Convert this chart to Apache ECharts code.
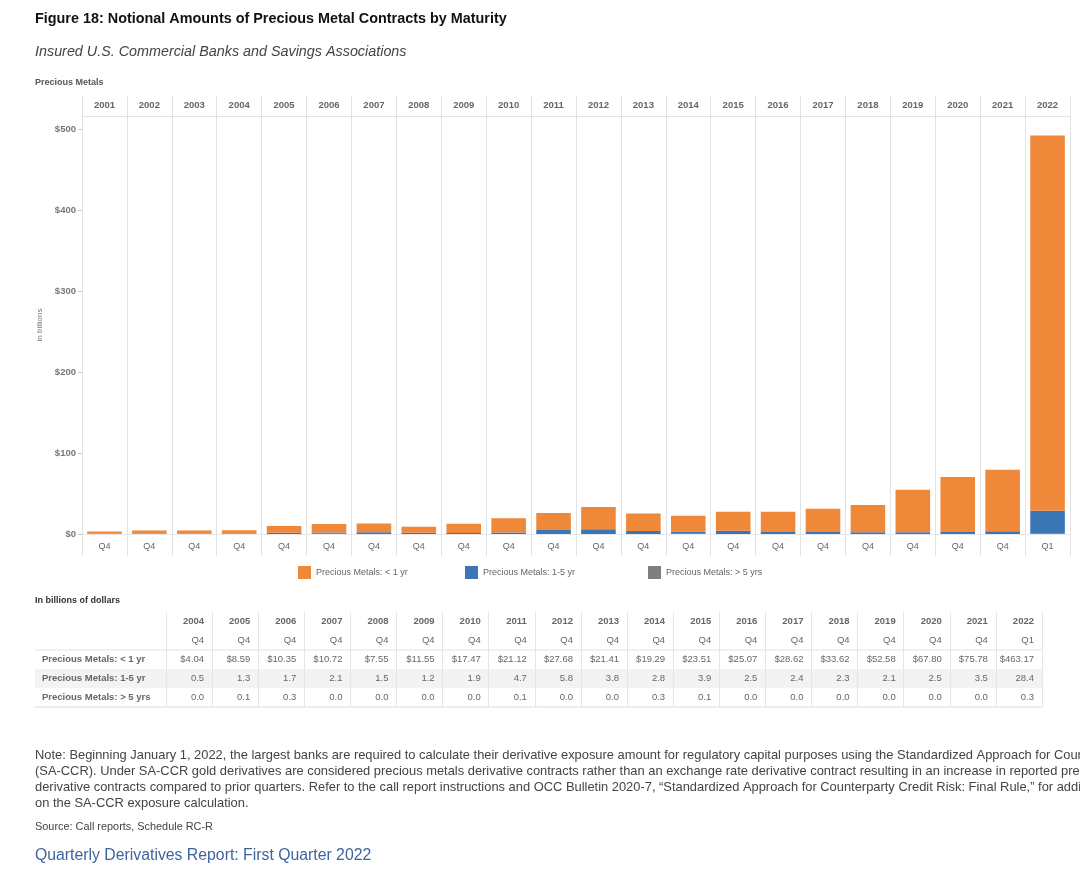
<!DOCTYPE html>
<html><head><meta charset="utf-8">
<script src="https://cdn.jsdelivr.net/npm/echarts@6/dist/echarts.min.js"></script>
<style>html,body{margin:0;padding:0;background:#fff}#c{width:1080px;height:885px}</style>
</head><body><div id="c"></div>
<script>
// ---- data ----
const years = ['2001','2002','2003','2004','2005','2006','2007','2008','2009','2010','2011','2012','2013','2014','2015','2016','2017','2018','2019','2020','2021','2022'];
const quarters = ['Q4','Q4','Q4','Q4','Q4','Q4','Q4','Q4','Q4','Q4','Q4','Q4','Q4','Q4','Q4','Q4','Q4','Q4','Q4','Q4','Q4','Q1'];
const lessThan1yr = [2.9, 3.8, 3.9, 4.04, 8.59, 10.35, 10.72, 7.55, 11.55, 17.47, 21.12, 27.68, 21.41, 19.29, 23.51, 25.07, 28.62, 33.62, 52.58, 67.80, 75.78, 463.17];
const oneTo5yr   = [0.3, 0.5, 0.5, 0.5, 1.3, 1.7, 2.1, 1.5, 1.2, 1.9, 4.7, 5.8, 3.8, 2.8, 3.9, 2.5, 2.4, 2.3, 2.1, 2.5, 3.5, 28.4];
const over5yr    = [0.0, 0.0, 0.0, 0.0, 0.1, 0.3, 0.0, 0.0, 0.0, 0.0, 0.1, 0.0, 0.0, 0.3, 0.1, 0.0, 0.0, 0.0, 0.0, 0.0, 0.0, 0.3];
const yTicks = [0, 100, 200, 300, 400, 500];
const seriesNames = ['Precious Metals: < 1 yr', 'Precious Metals: 1-5 yr', 'Precious Metals: > 5 yrs'];
const tableStart = 3; // table shows 2004 onward
const tableYears = years.slice(tableStart);
const tableQuarters = quarters.slice(tableStart);
const tableLt1 = lessThan1yr.slice(tableStart);
const table1to5 = oneTo5yr.slice(tableStart);
const tableGt5 = over5yr.slice(tableStart);

const FONT = 'Liberation Sans, Arial, sans-serif';
const colors = {lt1: '#F0883A', y15: '#3A75B6', gt5: '#7F7F7F'};

// table cells
const tableRowKeys = ['year', 'quarter', 'lt1', 'y15', 'gt5'];
const tableCells = [];
tableYears.forEach((y, i) => {
  tableCells.push({value: [i, 0], text: y, bold: true});
  tableCells.push({value: [i, 1], text: tableQuarters[i], bold: false});
  tableCells.push({value: [i, 2], text: '$' + tableLt1[i].toFixed(2), bold: false});
  tableCells.push({value: [i, 3], text: table1to5[i].toFixed(1), bold: false});
  tableCells.push({value: [i, 4], text: tableGt5[i].toFixed(1), bold: false});
});
const rowLabelMap = {lt1: seriesNames[0], y15: seriesNames[1], gt5: seriesNames[2]};

const chart = echarts.init(document.getElementById('c'), null, {renderer: 'canvas'});

const noteFont = '12.9px ' + FONT;
const option = {
  backgroundColor: '#fff',
  animation: false,
  textStyle: {fontFamily: FONT},
  graphic: [
    {type: 'text', left: 35, top: 12, style: {text: 'Figure 18: Notional Amounts of Precious Metal Contracts by Maturity', font: 'bold 14.4px ' + FONT, fill: '#111'}},
    {type: 'text', left: 35, top: 45, style: {text: 'Insured U.S. Commercial Banks and Savings Associations', font: 'italic 14.35px ' + FONT, fill: '#444'}},
    {type: 'text', left: 35, top: 78, style: {text: 'Precious Metals', font: 'bold 9px ' + FONT, fill: '#555'}},
    {type: 'text', left: 35, top: 596, style: {text: 'In billions of dollars', font: 'bold 9px ' + FONT, fill: '#333'}},
    {type: 'text', left: 35, top: 749, style: {text: 'Note: Beginning January 1, 2022, the largest banks are required to calculate their derivative exposure amount for regulatory capital purposes using the Standardized Approach for Counterparty Credit Risk', font: noteFont, fill: '#444'}},
    {type: 'text', left: 35, top: 765, style: {text: '(SA-CCR). Under SA-CCR gold derivatives are considered precious metals derivative contracts rather than an exchange rate derivative contract resulting in an increase in reported precious metals', font: noteFont, fill: '#444'}},
    {type: 'text', left: 35, top: 781, style: {text: 'derivative contracts compared to prior quarters. Refer to the call report instructions and OCC Bulletin 2020-7, \u201cStandardized Approach for Counterparty Credit Risk: Final Rule,\u201d for additional information', font: noteFont, fill: '#444'}},
    {type: 'text', left: 35, top: 797, style: {text: 'on the SA-CCR exposure calculation.', font: noteFont, fill: '#444'}},
    {type: 'text', left: 35, top: 821, style: {text: 'Source: Call reports, Schedule RC-R', font: '10.9px ' + FONT, fill: '#444'}},
    {type: 'text', left: 35, top: 848, style: {text: 'Quarterly Derivatives Report: First Quarter 2022', font: '15.8px ' + FONT, fill: '#3E64A0'}}
  ],
  legend: [
    {data: [seriesNames[0]], left: 293, top: 561, itemWidth: 13, itemHeight: 13, icon: 'rect', textStyle: {fontSize: 9, color: '#666', fontFamily: FONT}},
    {data: [seriesNames[1]], left: 460, top: 561, itemWidth: 13, itemHeight: 13, icon: 'rect', textStyle: {fontSize: 9, color: '#666', fontFamily: FONT}},
    {data: [seriesNames[2]], left: 643, top: 561, itemWidth: 13, itemHeight: 13, icon: 'rect', textStyle: {fontSize: 9, color: '#666', fontFamily: FONT}}
  ],
  grid: [
    {left: 82, right: 10, top: 116, bottom: 351, containLabel: false},
    {left: 166, right: 38, top: 612, height: 95, containLabel: false}
  ],
  xAxis: [
    {type: 'category', gridIndex: 0, data: quarters, position: 'bottom',
     axisLine: {show: true, lineStyle: {color: '#e4e8ee', width: 1}},
     axisTick: {show: true, length: 22, interval: 0, lineStyle: {color: '#e2e2e2'}},
     axisLabel: {interval: 0, margin: 8, fontSize: 9, color: '#666', fontFamily: FONT},
     splitLine: {show: false}},
    {type: 'category', gridIndex: 0, data: years, position: 'top',
     axisLine: {show: true, lineStyle: {color: '#e2e2e2', width: 1}},
     axisTick: {show: true, length: 20, interval: 0, lineStyle: {color: '#e2e2e2'}},
     axisLabel: {interval: 0, margin: 6, fontSize: 9.5, fontWeight: 'bold', color: '#666', fontFamily: FONT},
     splitLine: {show: true, interval: 0, lineStyle: {color: '#e2e2e2'}}},
    {type: 'category', gridIndex: 1, data: tableYears, position: 'top',
     axisLine: {show: false}, axisTick: {show: false}, axisLabel: {show: false},
     splitLine: {show: true, interval: 0, lineStyle: {color: '#e6e6e6'}}}
  ],
  yAxis: [
    {type: 'value', gridIndex: 0, min: 0, max: 516, interval: 100,
     name: 'in billions', nameLocation: 'middle', nameGap: 36, nameRotate: 90,
     nameTextStyle: {fontSize: 8, color: '#777', fontFamily: FONT},
     axisLine: {show: false},
     axisTick: {show: true, length: 4, customValues: yTicks, lineStyle: {color: '#ccc'}},
     axisLabel: {margin: 6, fontSize: 9.5, fontWeight: 'bold', color: '#777', fontFamily: FONT, customValues: yTicks, formatter: v => '$' + v},
     splitLine: {show: false}},
    {type: 'category', gridIndex: 1, data: tableRowKeys, inverse: true, z: 5,
     axisLine: {show: false}, axisTick: {show: false},
     axisLabel: {interval: 0, align: 'left', margin: 124, fontSize: 9.5, fontWeight: 'bold', color: '#666', fontFamily: FONT,
                 formatter: v => rowLabelMap[v] || ''},
     splitLine: {show: false}}
  ],
  series: [
    {name: seriesNames[2], type: 'bar', stack: 'pm', xAxisIndex: 0, yAxisIndex: 0, data: over5yr, barCategoryGap: '23%', itemStyle: {color: colors.gt5}},
    {name: seriesNames[1], type: 'bar', stack: 'pm', xAxisIndex: 0, yAxisIndex: 0, data: oneTo5yr, barCategoryGap: '23%', itemStyle: {color: colors.y15}},
    {name: seriesNames[0], type: 'bar', stack: 'pm', xAxisIndex: 0, yAxisIndex: 0, data: lessThan1yr, barCategoryGap: '23%', itemStyle: {color: colors.lt1}},
    {type: 'custom', name: 'tableRules', xAxisIndex: 2, yAxisIndex: 1, silent: true, z: -1, clip: false,
     data: tableRowKeys.map((k, r) => [0, r]),
     renderItem: function (params, api) {
       const r = api.value(1);
       const p = api.coord([0, r]);
       const s = api.size([1, 1]);
       const x0 = p[0] - s[0] / 2;
       const x1 = x0 + s[0] * tableYears.length;
       const xl = x0 - 131;
       const top = p[1] - s[1] / 2, bot = p[1] + s[1] / 2;
       const children = [];
       if (r === 3) children.push({type: 'rect', shape: {x: xl, y: top, width: x1 - xl, height: s[1]}, style: {fill: '#f3f3f3'}});
       if (r === 1) children.push({type: 'line', shape: {x1: xl, y1: bot, x2: x1, y2: bot}, style: {stroke: '#e2e2e2', lineWidth: 1}});
       if (r === 4) children.push({type: 'line', shape: {x1: xl, y1: bot, x2: x1, y2: bot}, style: {stroke: '#dcdcdc', lineWidth: 1}});
       return {type: 'group', children: children};
     }},
    {type: 'custom', name: 'tableCells', xAxisIndex: 2, yAxisIndex: 1, silent: true, z: 3, clip: false,
     data: tableCells.map(c => c.value),
     renderItem: function (params, api) {
       const cell = tableCells[params.dataIndex];
       const p = api.coord([api.value(0), api.value(1)]);
       const s = api.size([1, 1]);
       return {type: 'text', style: {text: cell.text, x: p[0] + s[0] / 2 - 8, y: p[1], align: 'right', verticalAlign: 'middle',
               font: (cell.bold ? 'bold ' : '') + '9.5px ' + FONT, fill: '#666'}};
     }}
  ]
};
chart.setOption(option);
</script>
</body></html>
